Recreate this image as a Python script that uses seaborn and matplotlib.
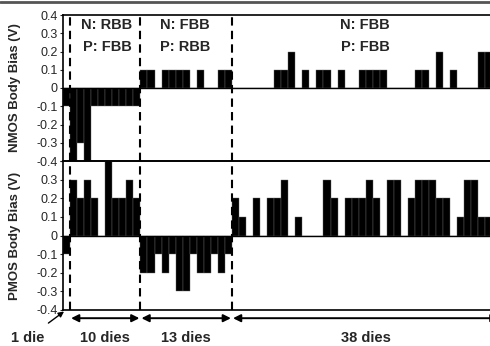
import matplotlib
matplotlib.use("Agg")
import matplotlib.pyplot as plt
from matplotlib.lines import Line2D
import seaborn as sns
import pandas as pd
import numpy as np

# body bias per die (V)
nmos_group1 = [-0.1]
nmos_group2 = [-0.4, -0.3, -0.4, -0.1, -0.1, -0.1, -0.1, -0.1, -0.1, -0.1]
nmos_group3 = [0.1, 0.1, 0, 0.1, 0.1, 0.1, 0.1, 0, 0.1, 0, 0, 0.1, 0.1]
nmos_group4 = [0, 0, 0, 0, 0, 0, 0.1, 0.1, 0.2, 0,
               0.1, 0, 0.1, 0.1, 0, 0.1, 0, 0, 0.1, 0.1,
               0.1, 0.1, 0, 0, 0, 0, 0.1, 0.1, 0, 0.2,
               0, 0.1, 0, 0, 0, 0.2, 0.2, 0.2]

pmos_group1 = [-0.1]
pmos_group2 = [0.3, 0.2, 0.3, 0.2, 0, 0.4, 0.2, 0.2, 0.3, 0.2]
pmos_group3 = [-0.2, -0.2, -0.1, -0.2, -0.1, -0.3, -0.3, -0.1, -0.2, -0.2, -0.1, -0.2, -0.1]
pmos_group4 = [0.2, 0.1, 0, 0.2, 0, 0.2, 0.2, 0.3, 0, 0.1,
               0, 0, 0, 0.3, 0.2, 0, 0.2, 0.2, 0.2, 0.3,
               0.2, 0, 0.3, 0.3, 0, 0.2, 0.3, 0.3, 0.3, 0.2,
               0.2, 0, 0.1, 0.3, 0.3, 0.1, 0.1, 0.1]

group_sizes = [1, 10, 13, 38]
group_labels = ["1 die", "10 dies", "13 dies", "38 dies"]
region_text = ["N: RBB\nP: FBB", "N: FBB\nP: RBB", "N: FBB\nP: FBB"]

nmos = nmos_group1 + nmos_group2 + nmos_group3 + nmos_group4
pmos = pmos_group1 + pmos_group2 + pmos_group3 + pmos_group4
df = pd.DataFrame({"die": np.arange(len(nmos)), "nmos": nmos, "pmos": pmos})

sns.set_style("white")
plt.rcParams["font.family"] = ["Liberation Sans", "DejaVu Sans"]

fig = plt.figure(figsize=(4.9, 3.46), dpi=100)
W, H = 490, 346
ax1 = fig.add_axes([63 / W, (H - 161) / H, 436.5 / W, 146 / H])
ax2 = fig.add_axes([63 / W, (H - 310) / H, 436.5 / W, 149 / H])

for ax, col, lab in [(ax1, "nmos", "NMOS Body Bias (V)"), (ax2, "pmos", "PMOS Body Bias (V)")]:
    sns.barplot(data=df, x="die", y=col, color="black", width=1.0, errorbar=None,
                edgecolor="#666666", linewidth=0.3, saturation=1, ax=ax)
    ax.set_xlim(-0.5, len(df) - 0.5)
    ax.set_ylim(-0.4, 0.4)
    ax.set_yticks(np.round(np.arange(-0.4, 0.41, 0.1), 1))
    ax.set_yticklabels(["0" if abs(v) < 1e-9 else f"{v:.1f}" for v in np.arange(-0.4, 0.41, 0.1)])
    ax.set_xticks([])
    ax.set_xlabel("")
    ax.set_ylabel(lab, fontsize=9.5, fontweight="bold")
    ax.yaxis.set_label_coords(-0.097, 0.5)
    ax.tick_params(axis="y", labelsize=9, length=2, pad=2, direction="out", left=True)
    ax.axhline(0, color="black", lw=1)
    for s in ax.spines.values():
        s.set_color("black")
        s.set_linewidth(1.2)
    ax.patch.set_alpha(0)
    # dashed separators between groups
    for b in np.cumsum(group_sizes)[:-1]:
        ax.axvline(b - 0.5, color="black", ls=(0, (4, 2.5)), lw=1.5)

ax2.get_yticklabels()[-1].set_visible(False)

# region annotations
edges = np.concatenate([[0], np.cumsum(group_sizes)]) - 0.5
centers = [5.75, 16.8, 42.4]
for c, t in zip(centers, region_text):
    ax1.text(c, 0.93, t.split("\n")[0], transform=ax1.get_xaxis_transform(),
             ha="center", va="center", fontsize=10.5, fontweight="bold")
    ax1.text(c, 0.78, t.split("\n")[1], transform=ax1.get_xaxis_transform(),
             ha="center", va="center", fontsize=10.5, fontweight="bold")

# group size arrows
ya = -0.055
for i in range(1, 4):
    ax2.annotate("", xy=(edges[i] + 0.15, ya), xytext=(edges[i + 1] - 0.15, ya),
                 xycoords=("data", "axes fraction"), textcoords=("data", "axes fraction"),
                 arrowprops=dict(arrowstyle="<|-|>", color="black", lw=1.4,
                                 mutation_scale=11, shrinkA=0, shrinkB=0),
                 annotation_clip=False)
    ax2.text((edges[i] + edges[i + 1]) / 2, -0.19, group_labels[i],
             transform=ax2.get_xaxis_transform(), ha="center", va="center",
             fontsize=10.5, fontweight="bold")

ax2.annotate(group_labels[0], xy=(-0.35, -0.01), xytext=(-5.5, -0.19),
             xycoords=("data", "axes fraction"), textcoords=("data", "axes fraction"),
             ha="center", va="center", fontsize=10.5, fontweight="bold",
             arrowprops=dict(arrowstyle="-|>", color="black", lw=1.0, mutation_scale=8,
                             shrinkA=6, shrinkB=0),
             annotation_clip=False)

# scan border at the very top
fig.add_artist(Line2D([0, 1], [0.995, 0.995], transform=fig.transFigure, color="#555555", lw=2))

fig.savefig("out.png", dpi=100)
